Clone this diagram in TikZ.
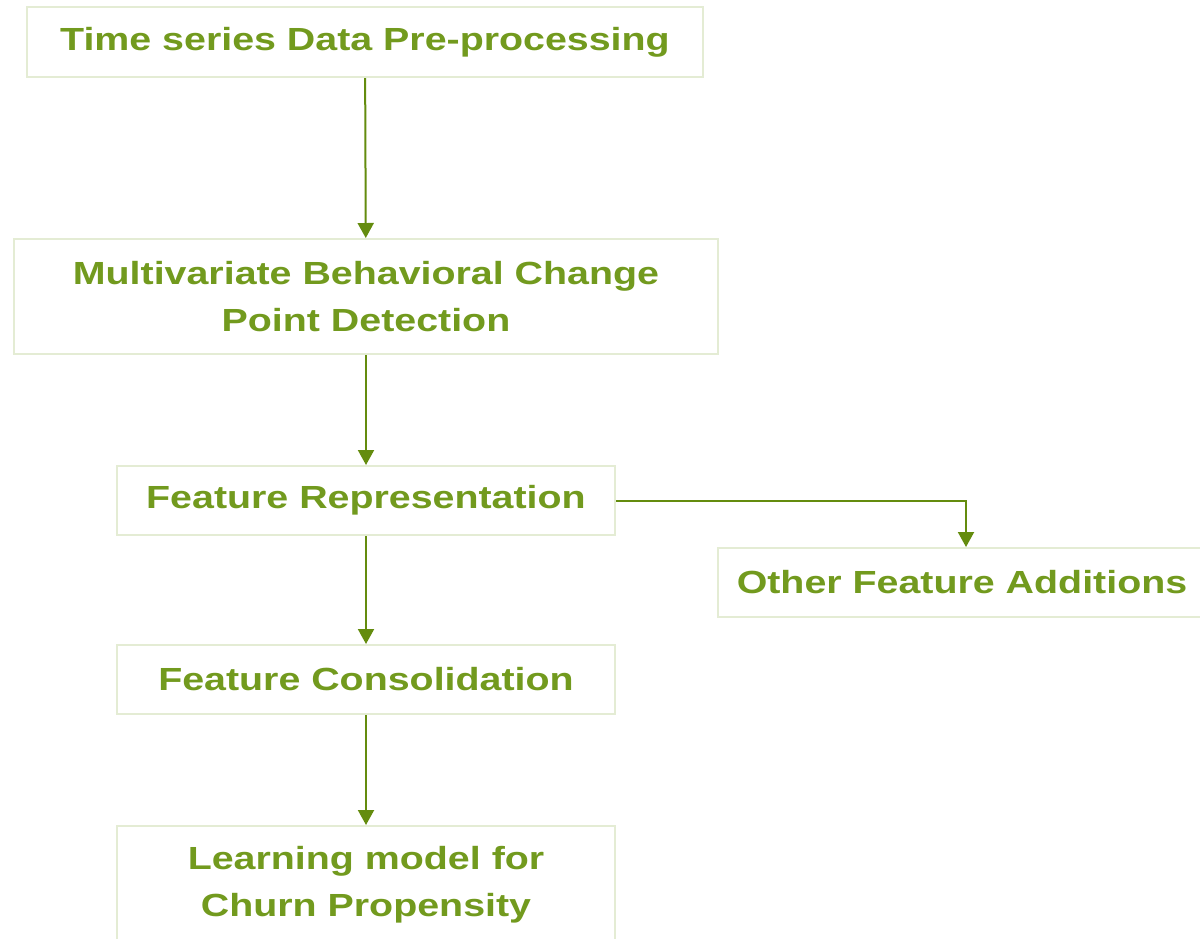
\documentclass[tikz,border=0pt]{standalone}
\usepackage{fontspec}
\setmainfont{Liberation Sans}[FakeStretch=1.23]
\usetikzlibrary{arrows.meta}

\definecolor{stagetext}{RGB}{114,154,30}
\definecolor{stageline}{RGB}{228,236,212}
\definecolor{flowline}{RGB}{100,140,14}

\begin{document}
\begin{tikzpicture}[
	x=0.5pt, y=-0.5pt,
	stage/.style={ draw=stageline, line width=1pt, text=stagetext, font=\fontsize{16}{23.5}\selectfont\bfseries, align=center, inner sep=0pt },
	flow/.style={ draw=flowline, line width=1pt, -{Triangle[length=7.5pt,width=8pt]} }
]
\clip (0,0) rectangle (1200,938);
\fill[white] (0,0) rectangle (1200,938);

\node at (365,42) (pre) [stage,minimum width=338pt,minimum height=35pt] {Time series Data Pre-processing};
\node at (366,296.5) (cpd) [stage,minimum width=352pt,minimum height=57.5pt] {Multivariate Behavioral Change\\Point Detection};
\node at (366,500.5) (rep) [stage,minimum width=249pt,minimum height=34.5pt] {Feature Representation};
\node at (962,582.5) (other) [stage,minimum width=244pt,minimum height=34.5pt] {Other Feature Additions};
\node at (366,679.5) (cons) [stage,minimum width=249pt,minimum height=34.5pt] {Feature Consolidation};
\node at (366,885) (model) [stage,minimum width=249pt,minimum height=59pt] {Learning model for\\Churn Propensity};

\draw[flow] (pre) to (cpd);
\draw[flow] (cpd) to (rep);
\draw[flow] (rep) to (cons);
\draw[flow] (cons) to (model);
\draw[flow] (rep.east) -| ([xshift=2pt]other.north);

\end{tikzpicture}
\end{document}
